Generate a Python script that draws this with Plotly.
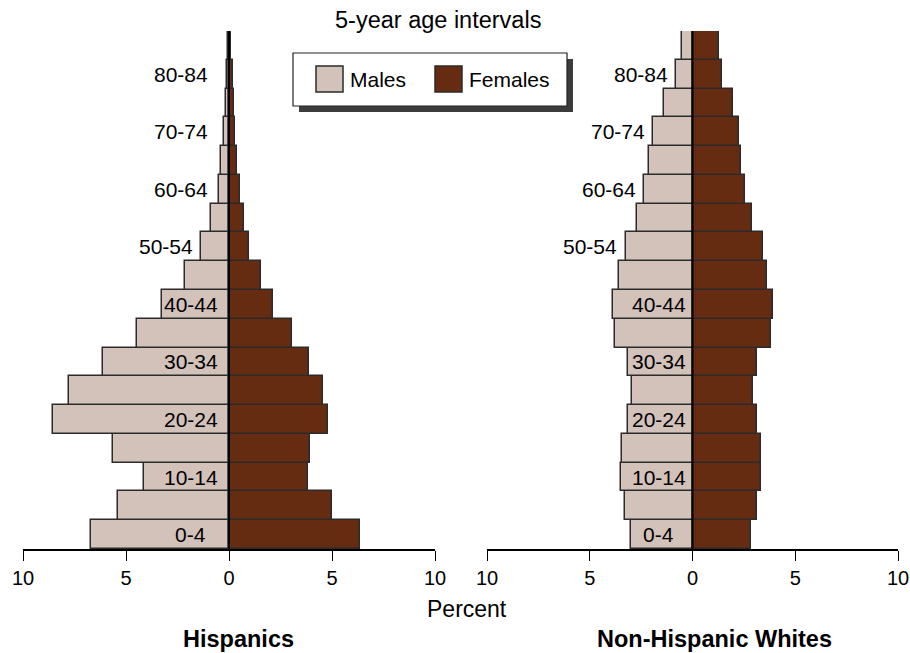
import plotly.graph_objects as go

# -------------------------
# Data (percent of population)
# -------------------------
age_groups = ["0-4", "5-9", "10-14", "15-19", "20-24", "25-29", "30-34", "35-39",
              "40-44", "45-49", "50-54", "55-59", "60-64", "65-69", "70-74",
              "75-79", "80-84", "85+"]

hisp_males = [6.7, 5.4, 4.15, 5.65, 8.55, 7.75, 6.1, 4.45, 3.25, 2.15, 1.35,
              0.85, 0.5, 0.37, 0.26, 0.16, 0.1, 0.07]
hisp_females = [6.35, 5.0, 3.85, 3.95, 4.8, 4.55, 3.9, 3.05, 2.15, 1.55, 0.95,
                0.72, 0.52, 0.4, 0.3, 0.22, 0.17, 0.1]

white_males = [3.0, 3.28, 3.47, 3.42, 3.16, 2.95, 3.16, 3.78, 3.87, 3.58, 3.26,
               2.71, 2.35, 2.13, 1.9, 1.37, 0.79, 0.5]
white_females = [2.84, 3.13, 3.33, 3.34, 3.13, 2.95, 3.13, 3.83, 3.91, 3.63, 3.41,
                 2.9, 2.56, 2.37, 2.24, 1.95, 1.42, 1.3]

tick_vals = [-10, -5, 0, 5, 10]
tick_text = ["10", "5", "0", "5", "10"]

panel_titles = ["Hispanics", "Non-Hispanic Whites"]

# -------------------------
# Style
# -------------------------
W, H = 910, 653
MALE_COL = "#D3C2BA"
FEMALE_COL = "#662C12"
EDGE_COL = "#2b2b2b"
FONT = "Liberation Sans, Arial, Helvetica, sans-serif"


def px(x):
    return x / W


def py(y):
    return 1 - y / H


fig = go.Figure()

panels = [
    ("x", "y", hisp_males, hisp_females, -1.85),
    ("x2", "y2", white_males, white_females, -1.65),
]

for xa, ya, males, females, inner_x in panels:
    fig.add_trace(go.Bar(
        y=list(range(len(age_groups))), x=[-m for m in males],
        orientation="h", xaxis=xa, yaxis=ya,
        marker=dict(color=MALE_COL, line=dict(color=EDGE_COL, width=1.5)),
        name="Males", showlegend=False,
        customdata=males, hovertemplate="%{customdata}%<extra>Males</extra>",
    ))
    fig.add_trace(go.Bar(
        y=list(range(len(age_groups))), x=females,
        orientation="h", xaxis=xa, yaxis=ya,
        marker=dict(color=FEMALE_COL, line=dict(color=EDGE_COL, width=1.5)),
        name="Females", showlegend=False,
    ))

    # centre line
    fig.add_shape(type="line", xref=xa, yref=ya, x0=0, x1=0, y0=-0.5, y1=17.5,
                  line=dict(color="black", width=2))

    # age labels every 10 years: inside the male bar below 45, outside above
    for i in range(0, len(age_groups), 2):
        if i < 10:
            lx, anchor = inner_x, "center"
        else:
            lx, anchor = min(-males[i] - 0.3, -0.9), "right"
        fig.add_annotation(x=lx, y=i, xref=xa, yref=ya, text=age_groups[i],
                           showarrow=False, xanchor=anchor, yanchor="middle",
                           font=dict(size=21, color="black", family=FONT))

# -------------------------
# Axes
# -------------------------
x_common = dict(range=[-10, 10], tickvals=tick_vals, ticktext=tick_text,
                showline=True, linecolor="black", linewidth=1.5,
                ticks="outside", ticklen=10, tickwidth=1.2, tickcolor="black",
                showgrid=False, zeroline=False, fixedrange=True, automargin=False,
                tickfont=dict(size=20, color="black", family=FONT))
y_common = dict(range=[-0.5, 17.5], showticklabels=False, showgrid=False,
                zeroline=False, showline=False, ticks="", automargin=False,
                fixedrange=True, domain=[1 - 549 / H, 1 - 31 / H])

fig.update_layout(
    xaxis=dict(domain=[px(23), px(435)], anchor="y", **x_common),
    xaxis2=dict(domain=[px(487), px(898)], anchor="y2", **x_common),
    yaxis=dict(anchor="x", **y_common),
    yaxis2=dict(anchor="x2", **y_common),
)

# -------------------------
# Legend (drawn by hand, with drop shadow)
# -------------------------
fig.add_shape(type="rect", xref="paper", yref="paper",
              x0=px(299), x1=px(573), y0=py(112), y1=py(59),
              fillcolor="#3c3c3c", line=dict(width=0), layer="above")
fig.add_shape(type="rect", xref="paper", yref="paper",
              x0=px(293), x1=px(567), y0=py(106), y1=py(53),
              fillcolor="white", line=dict(color="#222222", width=1.2), layer="above")
for sx, col, label in [(316, MALE_COL, "Males"), (435, FEMALE_COL, "Females")]:
    fig.add_shape(type="rect", xref="paper", yref="paper",
                  x0=px(sx), x1=px(sx + 27), y0=py(92), y1=py(66),
                  fillcolor=col, line=dict(color=EDGE_COL, width=1.5), layer="above")
    fig.add_annotation(x=px(sx + 32), y=py(79), xref="paper", yref="paper",
                       text=label, showarrow=False, xanchor="left", yanchor="middle",
                       font=dict(size=21, color="black", family=FONT))

# -------------------------
# Titles
# -------------------------
fig.add_annotation(x=px(438), y=py(20), xref="paper", yref="paper",
                   text="5-year age intervals", showarrow=False,
                   xanchor="center", yanchor="middle",
                   font=dict(size=23.5, color="black", family=FONT))
fig.add_annotation(x=px(467), y=py(609), xref="paper", yref="paper",
                   text="Percent", showarrow=False,
                   xanchor="center", yanchor="middle",
                   font=dict(size=23, color="black", family=FONT))
for cx, t in zip([238, 714], panel_titles):
    fig.add_annotation(x=px(cx), y=py(639), xref="paper", yref="paper",
                       text="<b>" + t + "</b>", showarrow=False,
                       xanchor="center", yanchor="middle",
                       font=dict(size=23.5, color="black", family=FONT))

fig.update_layout(
    width=W, height=H,
    margin=dict(l=0, r=0, t=0, b=0, pad=0),
    barmode="relative", bargap=0,
    plot_bgcolor="white", paper_bgcolor="white",
    font=dict(family=FONT, color="black"),
    showlegend=False,
)

# page body has an 8px default margin; drop it so the figure fills the window
fig.write_html("out.html",
               config={"displayModeBar": False},
               post_script="document.body.style.margin='0';"
                           "document.body.style.overflow='hidden';")
